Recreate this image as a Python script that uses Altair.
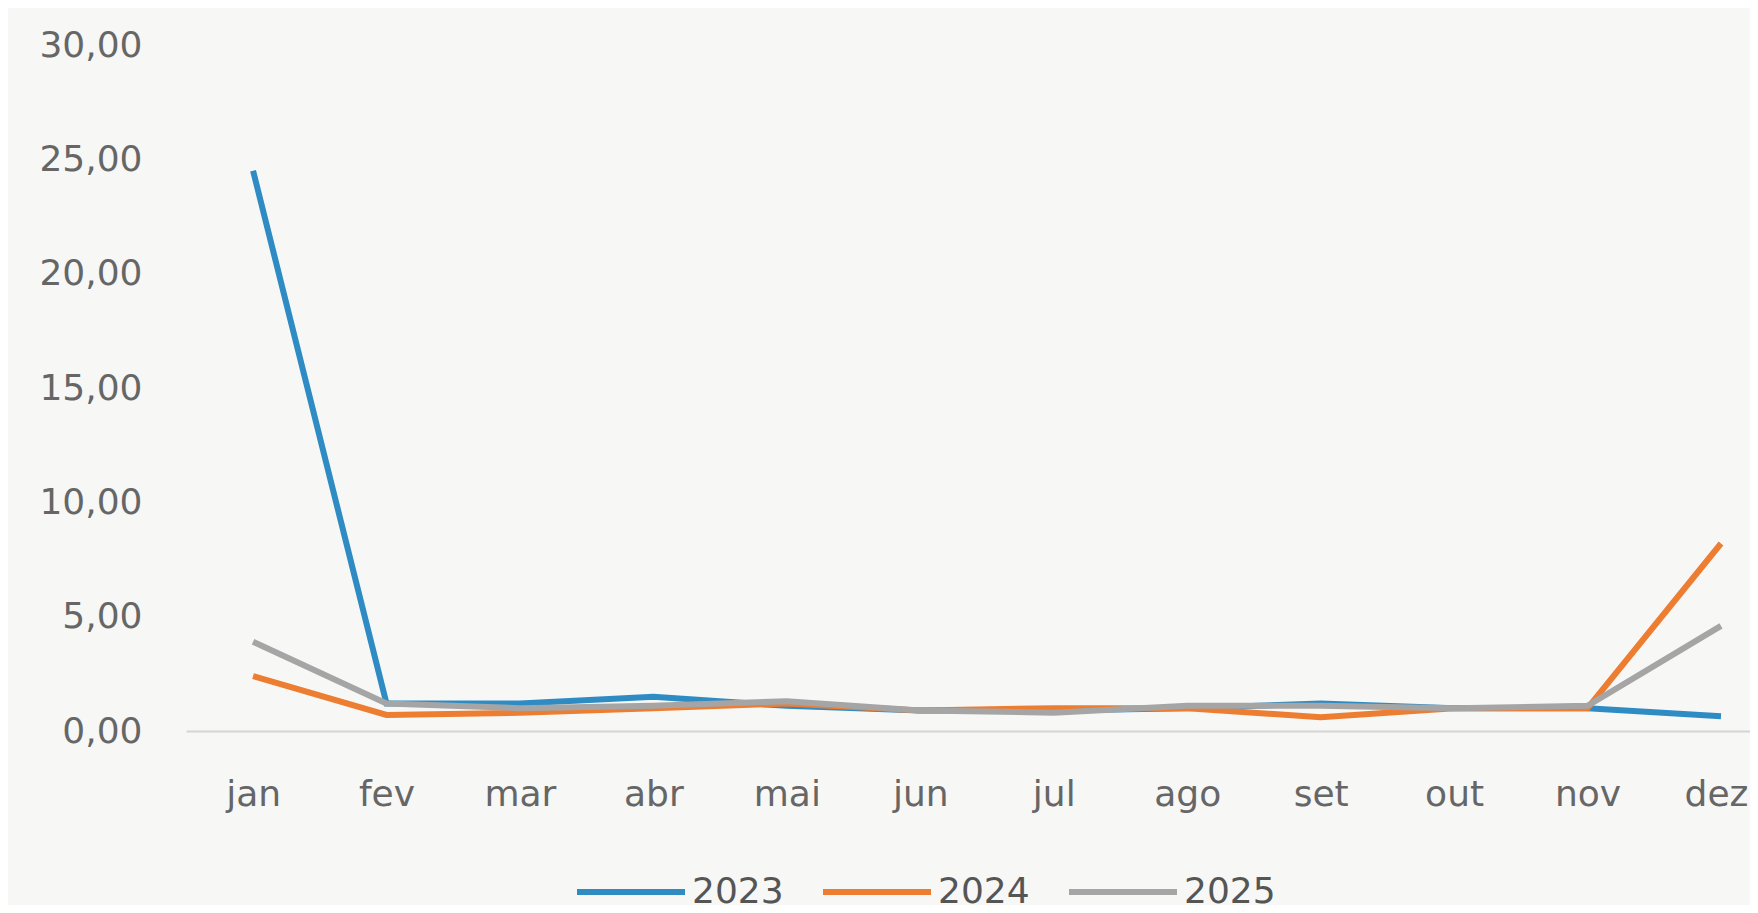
import altair as alt
import pandas as pd

months = ["jan", "fev", "mar", "abr", "mai", "jun", "jul", "ago", "set", "out", "nov", "dez"]
v2023 = [24.5, 1.2, 1.2, 1.5, 1.1, 0.9, 0.9, 1.0, 1.2, 1.0, 1.0, 0.65]
v2024 = [2.4, 0.7, 0.8, 1.0, 1.2, 0.9, 1.0, 1.0, 0.6, 1.0, 1.0, 8.2]
v2025 = [3.9, 1.2, 1.0, 1.1, 1.3, 0.9, 0.8, 1.1, 1.1, 1.0, 1.1, 4.6]
series = ["2023", "2024", "2025"]
colors = ["#2E8BC4", "#ED7D31", "#A5A5A5"]

rows = []
for name, vals in zip(series, [v2023, v2024, v2025]):
    for m, v in zip(months, vals):
        rows.append({"mes": m, "valor": v, "ano": name})
df = pd.DataFrame(rows)

chart = alt.Chart(df).mark_line(strokeWidth=6).encode(
    x=alt.X("mes:N", sort=months, title=None,
            scale=alt.Scale(type="point", padding=0.36, align=0.698),
            axis=alt.Axis(labelAngle=0, ticks=False, grid=False, domainColor="#d6d4d4",
                          domainWidth=2, labelPadding=46, labelFontSize=36,
                          labelFont="DejaVu Sans", labelColor="#666666",
                          labelOffset=alt.ExprRef(expr="datum.value == 'dez' ? -5 : 0"))),
    y=alt.Y("valor:Q", title=None,
            scale=alt.Scale(domain=[0, 30], nice=False),
            axis=alt.Axis(values=[0, 5, 10, 15, 20, 25, 30], ticks=False,
                          grid=False, domain=False, labelPadding=44, labelFontSize=36,
                          labelFont="DejaVu Sans", labelColor="#666666",
                          labelExpr="replace(format(datum.value, '.2f'), '.', ',')")),
    color=alt.Color("ano:N", scale=alt.Scale(domain=series, range=colors),
                    legend=alt.Legend(title=None, orient="none", direction="horizontal",
                                      legendX=388, legendY=790, symbolType="stroke",
                                      symbolSize=11664, symbolStrokeWidth=6,
                                      labelFontSize=36, labelFont="DejaVu Sans",
                                      labelColor="#555555", labelOffset=4,
                                      columnPadding=27)),
).properties(
    width=1564, height=686,
    autosize=alt.AutoSizeParams(type="none"),
    padding={"left": 178, "top": 37, "right": 0, "bottom": 174},
    background="#f7f7f6",
).configure_view(stroke=None)

chart.save("out.html", embed_options={"renderer": "svg", "actions": False})
